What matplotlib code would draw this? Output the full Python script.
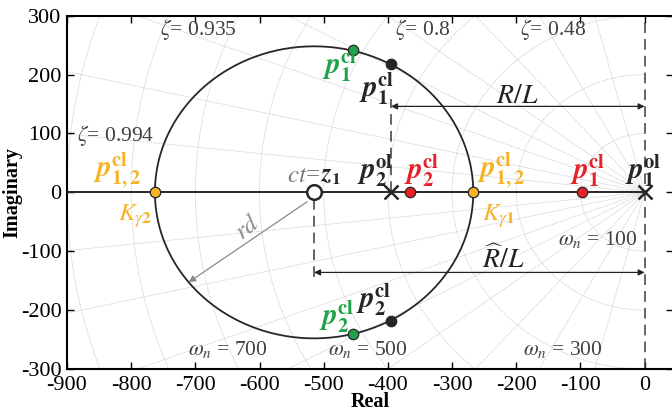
import numpy as np
import matplotlib.pyplot as plt

plt.rcParams['font.family'] = ['Liberation Serif', 'DejaVu Serif']
plt.rcParams['mathtext.fontset'] = 'stix'
plt.rcParams['axes.unicode_minus'] = False

# values
ol_poles = [0, -395]            # p1^ol, p2^ol
zero_ct = -515                  # ct = z1
locus_radius = 248
breakaway = [-763, -267]        # K_gamma2, K_gamma1 (p_1,2^cl)
red_cl = [-97, -366]            # p1^cl, p2^cl (real)
black_cl_re, black_cl_im = -395, 218
green_cl_re, green_cl_im = -455, 241
rl_level = 146
rhat_level = -136
zeta_values = [0.994, 0.975, 0.935, 0.88, 0.8, 0.66, 0.48, 0.25]
wn_values = [100, 200, 300, 400, 500, 600, 700, 800, 900]
zeta_labels = ['0.994', '0.935', '0.8', '0.48']
wn_labels = ['100', '300', '500', '700']
xticks = list(range(-900, 1, 100))
yticks = list(range(-300, 301, 100))

RED = '#e62129'
ORANGE = '#f6b42a'
GREEN = '#21a24a'
DARK = '#262626'
GRID = '#c4c4c4'
TXT = '#404040'

fig = plt.figure(figsize=(6.72, 4.12), dpi=100)
ax = fig.add_axes([0.0997, 0.1044, 0.9025, 0.8575])

# s-plane grid
gl = dict(color=GRID, lw=0.55, ls=(0, (1.5, 1.2)), zorder=1)
for z in zeta_values:
    th = np.arccos(z)
    for s in (1, -1):
        ax.plot([0, -2000 * np.cos(th)], [0, s * 2000 * np.sin(th)], **gl)
t = np.linspace(np.pi / 2, 3 * np.pi / 2, 300)
for w in wn_values:
    ax.plot(w * np.cos(t), w * np.sin(t), **gl)

# root locus
ax.plot([-900, ol_poles[0]], [0, 0], color=DARK, lw=1.4, zorder=3)
t = np.linspace(0, 2 * np.pi, 400)
ax.plot(zero_ct + locus_radius * np.cos(t), locus_radius * np.sin(t), color=DARK, lw=1.3, zorder=3)

# dashed guides
dash = dict(color='#3a3a3a', lw=1.1, ls=(0, (7, 4)), zorder=2)
ax.plot([ol_poles[0]] * 2, [-300, 300], **dash)
ax.plot([ol_poles[1]] * 2, [0, rl_level + 12], **dash)
ax.plot([zero_ct] * 2, [-12, rhat_level - 15], **dash)

# arrows
for x0, lev in ((ol_poles[1], rl_level), (zero_ct, rhat_level)):
    ax.annotate('', xy=(ol_poles[0], lev), xytext=(x0, lev),
                arrowprops=dict(arrowstyle='<|-|>', color='#222222', lw=0.9,
                                mutation_scale=9, shrinkA=0, shrinkB=0), zorder=4)
ang = np.deg2rad(218)
ax.annotate('', xy=(zero_ct + locus_radius * np.cos(ang), locus_radius * np.sin(ang)),
            xytext=(zero_ct, -8),
            arrowprops=dict(arrowstyle='-|>', color='#8a8a8a', lw=0.9,
                            mutation_scale=10, shrinkA=6, shrinkB=0), zorder=4)

# markers
ax.plot(ol_poles, [0, 0], 'x', color=DARK, ms=10.5, mew=1.8, zorder=6)
ax.plot([zero_ct], [0], 'o', mfc='white', mec=DARK, ms=10.5, mew=1.8, zorder=6)
ax.plot(red_cl, [0, 0], 'o', mfc=RED, mec=DARK, ms=7.5, mew=0.9, zorder=7)
ax.plot(breakaway, [0, 0], 'o', mfc=ORANGE, mec=DARK, ms=7.5, mew=0.9, zorder=7)
ax.plot([black_cl_re] * 2, [black_cl_im, -black_cl_im], 'o', mfc=DARK, mec=DARK, ms=7.5, mew=0.9, zorder=7)
ax.plot([green_cl_re] * 2, [green_cl_im, -green_cl_im], 'o', mfc=GREEN, mec=DARK, ms=7.5, mew=0.9, zorder=7)

# grid labels
for lab, (x, y) in zip(zeta_labels, [(-825, 97), (-696, 277), (-346, 277), (-143, 277)]):
    ax.text(x, y, r'$\zeta$= ' + lab, color=TXT, fontsize=15.5, ha='center', va='center', zorder=5)
for lab, (x, y) in zip(wn_labels, [(-73, -80), (-128, -267), (-432, -267), (-649, -267)]):
    ax.text(x, y, r'$\omega_n$ = ' + lab, color=TXT, fontsize=15.5, ha='center', va='center', zorder=5)

# pole labels
def plabel(x, y, s, c):
    ax.text(x, y, s, color=c, fontsize=21, ha='center', va='center', zorder=8)

plabel(-475, 215, r'$\mathbfit{p}_{\mathbf{1}}^{\mathbf{cl}}$', GREEN)
plabel(-418, 176, r'$\mathbfit{p}_{\mathbf{1}}^{\mathbf{cl}}$', DARK)
plabel(-480, -212, r'$\mathbfit{p}_{\mathbf{2}}^{\mathbf{cl}}$', GREEN)
plabel(-422, -182, r'$\mathbfit{p}_{\mathbf{2}}^{\mathbf{cl}}$', DARK)
plabel(-822, 37, r'$\mathbfit{p}_{\mathbf{1,2}}^{\mathbf{cl}}$', ORANGE)
plabel(-224, 37, r'$\mathbfit{p}_{\mathbf{1,2}}^{\mathbf{cl}}$', ORANGE)
plabel(-420, 37, r'$\mathbfit{p}_{\mathbf{2}}^{\mathbf{ol}}$', DARK)
plabel(-348, 37, r'$\mathbfit{p}_{\mathbf{2}}^{\mathbf{cl}}$', RED)
plabel(-89, 37, r'$\mathbfit{p}_{\mathbf{1}}^{\mathbf{cl}}$', RED)
plabel(-3, 37, r'$\mathbfit{p}_{\mathbf{1}}^{\mathbf{ol}}$', DARK)
ax.text(-794, -40, r'$K_{\gamma\mathbf{2}}$', color=ORANGE, fontsize=18, ha='center', va='center', zorder=8)
ax.text(-228, -40, r'$K_{\gamma\mathbf{1}}$', color=ORANGE, fontsize=18, ha='center', va='center', zorder=8)
ax.text(-198, 162, r'$R/L$', color='#222222', fontsize=20, ha='center', va='center', zorder=8)
ax.text(-220, -114, r'$\widehat{R}/L$', color='#222222', fontsize=20, ha='center', va='center', zorder=8)
ax.text(-506, 27, r'$ct$=', color='#7a7a7a', fontsize=18, ha='right', va='center', zorder=8)
ax.text(-506, 27, r'$\mathbfit{z}_{\mathbf{1}}$', color=DARK, fontsize=18, ha='left', va='center', zorder=8)
ax.text(-618, -60, r'$rd$', color='#8a8a8a', fontsize=18, ha='center', va='center', rotation=38, zorder=8)

ax.set_xlim(-900, 45)
ax.set_ylim(-300, 300)
ax.set_xticks(xticks)
ax.set_yticks(yticks)
ax.tick_params(direction='in', length=5, width=1, top=True, right=True, labelsize=16)
ax.tick_params(axis='x', pad=5)
ax.tick_params(axis='y', pad=4)
for sp in ax.spines.values():
    sp.set_linewidth(1.5)
ax.set_xlabel('Real', fontsize=14.5, fontweight='bold', labelpad=-2)
ax.set_ylabel('Imaginary', fontsize=14.5, fontweight='bold', labelpad=-1)

fig.savefig('out.png', dpi=100)
